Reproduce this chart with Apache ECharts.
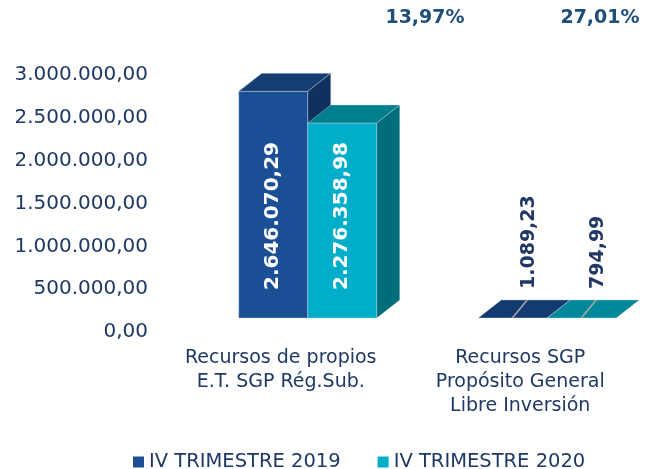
<!DOCTYPE html>
<html>
<head>
<meta charset="utf-8">
<script src="https://cdn.jsdelivr.net/npm/echarts@6/dist/echarts.min.js"></script>
<style>
  html, body { margin: 0; padding: 0; background: #fff; }
  #chart { width: 648px; height: 469px; }
</style>
</head>
<body>
<div id="chart"></div>
<script>
// data
const categories = ['Recursos de propios\nE.T. SGP Rég.Sub.', 'Recursos SGP\nPropósito General\nLibre Inversión'];
const seriesNames = ['IV TRIMESTRE 2019', 'IV TRIMESTRE 2020'];
const values2019 = [2646070.29, 1089.23];
const values2020 = [2276358.98, 794.99];
const pctLabels = ['13,97%', '27,01%'];
const yMin = 0, yMax = 3000000, yStep = 500000;

const NAVY = '#1f3864';
const FONT = 'DejaVu Sans';
const BW = 69, DX = 23, DY = -18, FLOOR = 14, SHIFT = 27;
const colors = [
  { front: '#1a4f96', top: '#153d72', side: '#10305f', flat: '#133b6f' },
  { front: '#00aec9', top: '#00808f', side: '#006d7a', flat: '#00899a' }
];

const fmt = function(v) {
  const parts = Number(v).toFixed(2).split('.');
  return parts[0].replace(/\B(?=(\d{3})+(?!\d))/g, '.') + ',' + parts[1];
};

const renderBar = function(params, api) {
  const si = params.seriesIndex;
  const cat = api.value(0), val = api.value(1);
  const base = api.coord([cat, 0]);
  const top = api.coord([cat, val]);
  const x0 = base[0] + SHIFT - BW + si * BW;
  const x1 = x0 + BW;
  const yb = base[1] - FLOOR;
  const yt = top[1] - FLOOR;
  const c = colors[si];
  const flat = yb - yt < 2;
  const edge = { stroke: 'rgba(200,212,228,0.7)', lineWidth: 0.6 };
  const kids = [];

  if (!flat) {
    kids.push({ type: 'rect', shape: { x: x0, y: yt, width: BW, height: yb - yt },
      style: Object.assign({ fill: c.front }, edge) });
  }
  kids.push({ type: 'polygon',
    shape: { points: [[x0, yt], [x1, yt], [x1 + DX, yt + DY], [x0 + DX, yt + DY]] },
    style: Object.assign({ fill: flat ? c.flat : c.top }, edge) });
  if (!flat) {
    kids.push({ type: 'polygon',
      shape: { points: [[x1, yt], [x1 + DX, yt + DY], [x1 + DX, yb + DY], [x1, yb]] },
      style: Object.assign({ fill: c.side }, edge) });
  } else {
    kids.push({ type: 'line',
      shape: { x1: x0 + 34, y1: yb, x2: x0 + 49, y2: yb + DY },
      style: { stroke: '#a8a8a8', lineWidth: 1.5 } });
  }

  // value label, rotated to read bottom-up
  const big = yb - yt > 150;
  kids.push({ type: 'text',
    x: big ? x0 + BW / 2 : x0 + 51,
    y: big ? yb - 28 : yb + DY - 11,
    rotation: Math.PI / 2,
    style: {
      text: fmt(val),
      fill: big ? '#ffffff' : NAVY,
      font: 'bold ' + (big ? 20 : 19) + 'px "' + FONT + '"',
      align: 'left',
      verticalAlign: 'middle'
    } });

  return { type: 'group', children: kids };
};

const makeSeries = function(name, vals, i) {
  return {
    name: name,
    type: 'custom',
    renderItem: renderBar,
    itemStyle: { color: colors[i].front },
    data: vals.map((v, k) => [k, v])
  };
};

const pctX = [425, 600];

const chart = echarts.init(document.getElementById('chart'));
chart.setOption({
  animation: false,
  backgroundColor: '#ffffff',
  textStyle: { fontFamily: FONT },
  grid: { left: 161, right: 8, top: 75, bottom: 137 },
  legend: {
    data: seriesNames.map(n => ({ name: n, icon: 'rect' })),
    left: 128, top: 447,
    itemWidth: 11, itemHeight: 11, itemGap: 37,
    textStyle: { fontSize: 19.5, color: NAVY, fontFamily: FONT }
  },
  xAxis: {
    type: 'category',
    data: categories,
    axisLine: { show: false },
    axisTick: { show: false },
    axisLabel: { interval: 0, fontSize: 19, lineHeight: 24, margin: 14, color: NAVY, fontFamily: FONT }
  },
  yAxis: {
    type: 'value',
    min: yMin, max: yMax, interval: yStep,
    splitLine: { show: false },
    axisLine: { show: false },
    axisTick: { show: false },
    axisLabel: { fontSize: 20, margin: 13, color: NAVY, fontFamily: FONT, formatter: fmt }
  },
  graphic: pctLabels.map((t, i) => ({
    type: 'text',
    x: pctX[i], y: 18,
    style: { text: t, fill: '#1f4e79', font: 'bold 19px "' + FONT + '"', align: 'center', verticalAlign: 'middle' }
  })),
  series: [
    makeSeries(seriesNames[0], values2019, 0),
    makeSeries(seriesNames[1], values2020, 1)
  ]
});
</script>
</body>
</html>
